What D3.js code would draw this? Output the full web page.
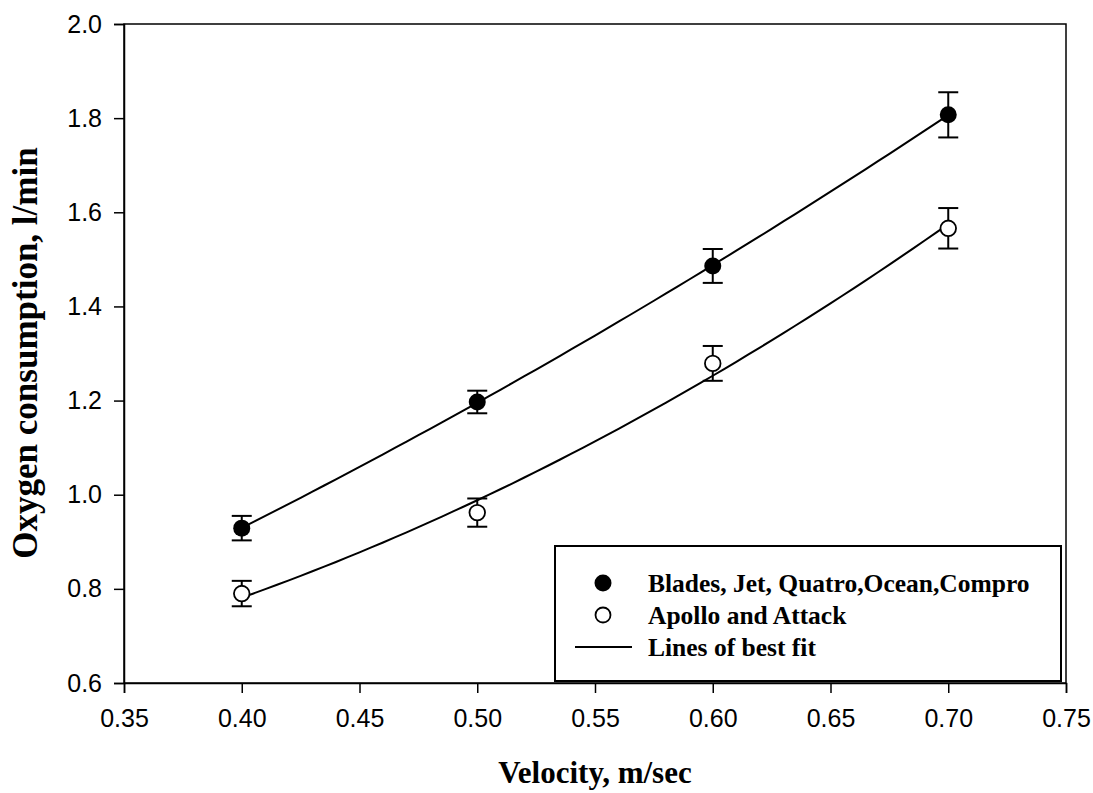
<!DOCTYPE html>
<html><head><meta charset="utf-8">
<script src="https://cdn.jsdelivr.net/npm/d3@7"></script>
<style>body{margin:0;background:#fff}svg{display:block}</style>
</head><body>
<script>
const velocities = [0.40, 0.50, 0.60, 0.70];
const groupA = [0.929, 1.197, 1.486, 1.807];
const groupAErr = [0.026, 0.024, 0.036, 0.048];
const groupB = [0.790, 0.962, 1.279, 1.566];
const groupBErr = [0.027, 0.030, 0.037, 0.043];
const xTicks = [0.35, 0.40, 0.45, 0.50, 0.55, 0.60, 0.65, 0.70, 0.75];
const yTicks = [0.6, 0.8, 1.0, 1.2, 1.4, 1.6, 1.8, 2.0];
const legendLabels = ["Blades, Jet, Quatro,Ocean,Compro", "Apollo and Attack", "Lines of best fit"];

const W = 1093, H = 793;
const svg = d3.select("body").append("svg").attr("width", W).attr("height", H);
const x = d3.scaleLinear().domain([0.35, 0.75]).range([124, 1066]);
const y = d3.scaleLinear().domain([0.6, 2.0]).range([683, 24]);

// frame top/right
svg.append("rect").attr("x", x(0.35)).attr("y", y(2.0)).attr("width", x(0.75) - x(0.35))
  .attr("height", y(0.6) - y(2.0)).attr("fill", "none").attr("stroke", "#000").attr("stroke-width", 1.5);

const xAxis = svg.append("g").attr("transform", `translate(0,${y(0.6)})`)
  .call(d3.axisBottom(x).tickValues(xTicks).tickFormat(d3.format(".2f")).tickSize(10).tickPadding(16));
const yAxis = svg.append("g").attr("transform", `translate(${x(0.35)},0)`)
  .call(d3.axisLeft(y).tickValues(yTicks).tickFormat(d3.format(".1f")).tickSize(10).tickPadding(12));
[xAxis, yAxis].forEach(g => {
  g.selectAll("path.domain").attr("stroke", "#000").attr("stroke-width", 1.5);
  g.selectAll(".tick line").attr("stroke", "#000").attr("stroke-width", 1.5);
  g.selectAll("text").attr("font-family", "Liberation Sans, Arial, sans-serif").attr("font-size", 25).attr("fill", "#000");
});

// quadratic least squares fit
function quadFit(xs, ys) {
  const n = xs.length;
  let S = [0,0,0,0,0], T = [0,0,0];
  for (let i = 0; i < n; i++) {
    for (let k = 0; k < 5; k++) S[k] += Math.pow(xs[i], k);
    for (let k = 0; k < 3; k++) T[k] += ys[i] * Math.pow(xs[i], k);
  }
  const M = [[S[0],S[1],S[2],T[0]],[S[1],S[2],S[3],T[1]],[S[2],S[3],S[4],T[2]]];
  for (let i = 0; i < 3; i++) {
    for (let j = i+1; j < 3; j++) {
      const f = M[j][i] / M[i][i];
      for (let k = i; k < 4; k++) M[j][k] -= f * M[i][k];
    }
  }
  const c = [0,0,0];
  for (let i = 2; i >= 0; i--) {
    let s = M[i][3];
    for (let k = i+1; k < 3; k++) s -= M[i][k] * c[k];
    c[i] = s / M[i][i];
  }
  return t => c[0] + c[1]*t + c[2]*t*t;
}
const line = d3.line().x(d => x(d[0])).y(d => y(d[1]));
[groupA, groupB].forEach(vals => {
  const f = quadFit(velocities, vals);
  const pts = d3.range(0, 61).map(i => { const t = 0.40 + i * 0.005; return [t, f(t)]; });
  svg.append("path").attr("d", line(pts)).attr("fill", "none").attr("stroke", "#000").attr("stroke-width", 2);
});

function drawSeries(vals, errs, filled) {
  const g = svg.append("g");
  velocities.forEach((v, i) => {
    const cx = x(v), lo = y(vals[i] - errs[i]), hi = y(vals[i] + errs[i]);
    g.append("line").attr("x1", cx).attr("x2", cx).attr("y1", lo).attr("y2", hi).attr("stroke", "#000").attr("stroke-width", 2);
    [lo, hi].forEach(yy => g.append("line").attr("x1", cx - 10).attr("x2", cx + 10).attr("y1", yy).attr("y2", yy).attr("stroke", "#000").attr("stroke-width", 2));
    g.append("circle").attr("cx", cx).attr("cy", y(vals[i])).attr("r", filled ? 8.5 : 7.8)
      .attr("fill", filled ? "#000" : "#fff").attr("stroke", "#000").attr("stroke-width", filled ? 0 : 1.8);
  });
}
drawSeries(groupA, groupAErr, true);
drawSeries(groupB, groupBErr, false);

// legend
const lg = svg.append("g");
lg.append("rect").attr("x", 555).attr("y", 546).attr("width", 506).attr("height", 135)
  .attr("fill", "#fff").attr("stroke", "#000").attr("stroke-width", 2);
const rowsY = [583, 615, 647];
lg.append("circle").attr("cx", 603).attr("cy", rowsY[0]).attr("r", 8.5).attr("fill", "#000");
lg.append("circle").attr("cx", 603).attr("cy", rowsY[1]).attr("r", 7.5).attr("fill", "#fff").attr("stroke", "#000").attr("stroke-width", 1.8);
lg.append("line").attr("x1", 575).attr("x2", 632).attr("y1", rowsY[2]).attr("y2", rowsY[2]).attr("stroke", "#000").attr("stroke-width", 2);
legendLabels.forEach((t, i) => {
  lg.append("text").attr("x", 648).attr("y", rowsY[i] + 9).text(t)
    .attr("font-family", "Liberation Serif, Times New Roman, serif").attr("font-weight", "bold").attr("font-size", 25.5);
});

// axis titles
svg.append("text").attr("x", 595).attr("y", 783).attr("text-anchor", "middle").text("Velocity, m/sec")
  .attr("font-family", "Liberation Serif, Times New Roman, serif").attr("font-weight", "bold").attr("font-size", 31);
svg.append("text").attr("transform", "translate(37,353) rotate(-90)").attr("text-anchor", "middle").text("Oxygen consumption, l/min")
  .attr("font-family", "Liberation Serif, Times New Roman, serif").attr("font-weight", "bold").attr("font-size", 35);
</script>
</body></html>
